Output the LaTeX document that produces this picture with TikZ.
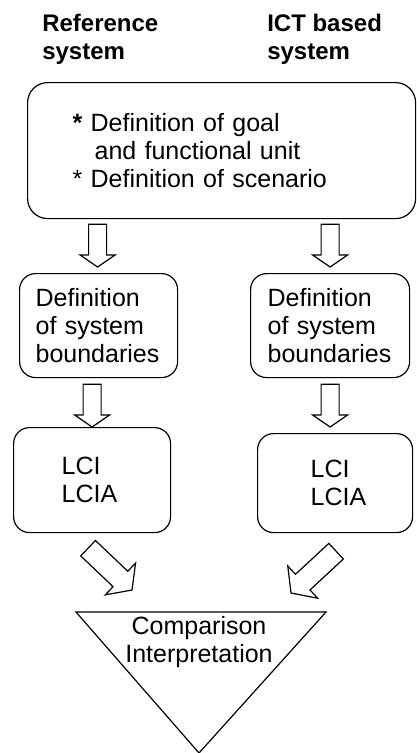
\documentclass[tikz,border=0pt]{standalone}
\usepackage{fontspec}
\setmainfont{Liberation Sans}
\usetikzlibrary{calc}

% hollow block arrow: tail, tip, shaft half width, head half width, head length
\newcommand\blockarrow[5]{%
  \coordinate (ba-h) at ($(#2)!#5!(#1)$);
  \draw[arrowline]
      ($(#1)!#3!90:(#2)$) -- ($(ba-h)!#3!-90:(#1)$) -- ($(ba-h)!#4!-90:(#1)$)
   -- (#2) -- ($(ba-h)!#4!90:(#1)$) -- ($(ba-h)!#3!90:(#1)$)
   -- ($(#1)!#3!-90:(#2)$) -- cycle;}

\tikzset{
  txt/.style={font=\fontsize{18.75}{21}\selectfont},
  head/.style={font=\fontsize{18}{21}\selectfont\bfseries,align=left,anchor=north west,inner sep=0pt},
  stepbox/.style={txt,draw,line width=.9pt,rounded corners=12pt,align=left,anchor=north west,inner ysep=0pt},
  arrowline/.style={draw,line width=.9pt,fill=white,line join=miter},
}

\begin{document}
\begin{tikzpicture}[x=.75pt,y=-.75pt]
\useasboundingbox (0,0) rectangle (417,753);

\node[head] (hdref) at ( 42,14) {Reference\\system};
\node[head] (hdict) at (267,14) {ICT based\\system};

\node[stepbox,rounded corners=15pt,minimum height=102pt,text width=223.5pt,inner xsep=33.75pt]
    (goal) at (27,82)
    {\textbf{*} Definition of goal\\\hspace*{16.5pt}and functional unit\\{}* Definition of scenario};

\node[stepbox,minimum height=78pt,text width=94.5pt,inner xsep=12pt]
    (bnd1) at ( 19,273) {Definition\\of system\\boundaries};
\node[stepbox,minimum height=78pt,text width=93.75pt,inner xsep=12.75pt]
    (bnd2) at (250,273) {Definition\\of system\\boundaries};

\node[stepbox,minimum height=78.75pt,text width=45.75pt,inner xsep=36pt]
    (lci1) at ( 13,427) {LCI\\LCIA};
\node[stepbox,minimum height=74.25pt,text width=36.75pt,inner xsep=39.75pt]
    (lci2) at (257,433) {LCI\\LCIA};

\coordinate (cmp-l) at ( 76,612);
\coordinate (cmp-r) at (326,612);
\coordinate (cmp-b) at (199,753);
\draw[line width=.9pt,line join=miter] (cmp-l) -- (cmp-r) -- (cmp-b) -- cycle;
\node[txt,align=center] (cmp) at (199,642) {Comparison\\Interpretation};

\blockarrow{$(goal.south -| bnd1.north)+(-1,5)$}{$(bnd1.north)+(-1,-6)$}{6.75pt}{13.1pt}{9pt}
\blockarrow{$(goal.south -| bnd2.north)+(0,5)$}{$(bnd2.north)+(0,-6)$}{6.75pt}{13.1pt}{9pt}
\blockarrow{$(bnd1.south -| lci1.north)+(0,6)$}{lci1.north}{6.75pt}{13.1pt}{9pt}
\blockarrow{$(bnd2.south)+(0,6)$}{$(bnd2.south |- lci2.north)+(0,-6)$}{6.75pt}{13.1pt}{9pt}

\blockarrow{$(lci1.south)+(-4,15)$}{$(cmp-l)+(56,-22)$}{8pt}{16.5pt}{12pt}
\blockarrow{$(lci2.south)+(1,18)$}{$(cmp-r)+(-35,-19)$}{8pt}{16.5pt}{12pt}
\end{tikzpicture}
\end{document}
